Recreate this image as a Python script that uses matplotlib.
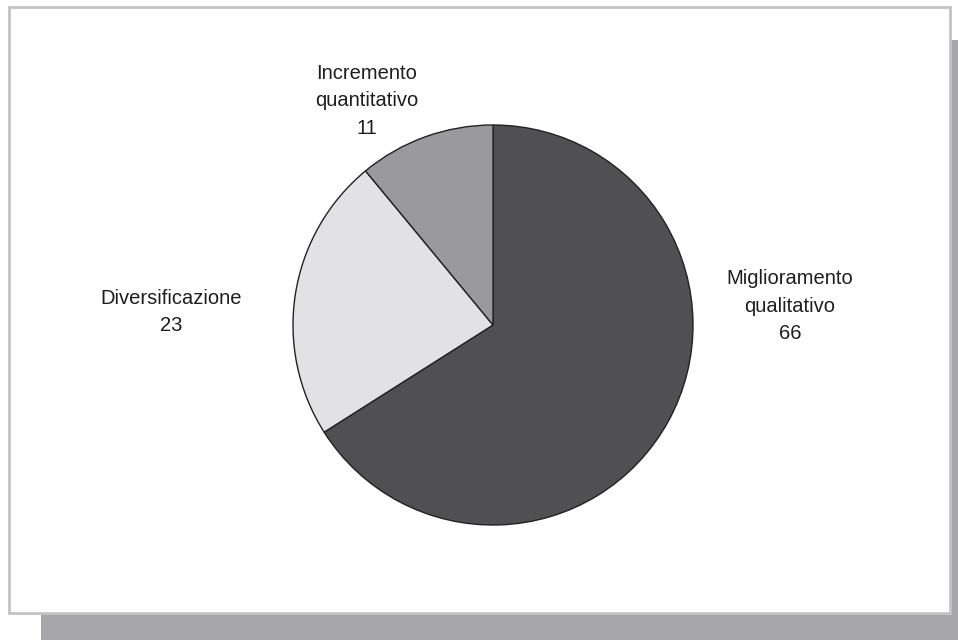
import matplotlib.pyplot as plt
from matplotlib.patches import Rectangle

plt.rcParams['font.family'] = ['Liberation Sans', 'DejaVu Sans']

# donnees du graphique
categories = ['Miglioramento\nqualitativo', 'Diversificazione', 'Incremento\nquantitativo']
valeurs = [66, 23, 11]
couleurs = ['#505053', '#e2e2e4', '#9a9a9e']
# position des etiquettes (pixels, origine en haut a gauche)
pos_x = [790, 171, 367]
pos_y = [306, 312, 101]

W, H = 958, 640
fig = plt.figure(figsize=(W / 100, H / 100), dpi=100)
ax = fig.add_axes([0, 0, 1, 1])

# ombre puis cadre
ax.add_patch(Rectangle((41, -10), W, H - 40 + 10, facecolor='#a7a7ab', edgecolor='none', zorder=0))
ax.add_patch(Rectangle((9, H - 613), 941, 606, facecolor='white', edgecolor='#c4c4c4', linewidth=2, zorder=1))

ax.pie(valeurs, colors=couleurs, startangle=90, counterclock=False,
       center=(493, H - 325), radius=200, frame=True,
       wedgeprops=dict(edgecolor='#222222', linewidth=1.0, zorder=2))
ax.set_xlim(0, W)
ax.set_ylim(0, H)
ax.set_aspect('equal')
ax.axis('off')

for cat, v, x, y in zip(categories, valeurs, pos_x, pos_y):
    ax.text(x, H - y, f"{cat}\n{v}", ha='center', va='center', fontsize=14.5,
            color='#1e1e1e', linespacing=1.55, zorder=3)

fig.savefig('out.png', dpi=100)
